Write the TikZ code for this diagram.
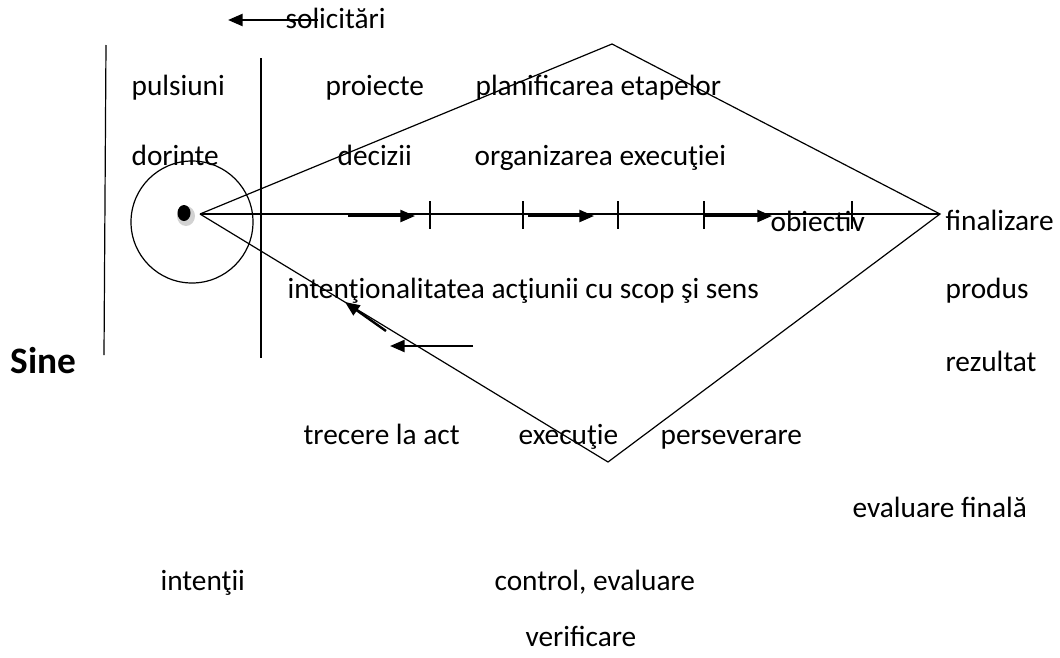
\documentclass[tikz,border=0pt]{standalone}
\usepackage{fontspec}
\setmainfont{Carlito}
\usetikzlibrary{arrows.meta}

\tikzset{
  lbl/.style={anchor=base west, inner sep=0pt, font=\fontsize{22}{24}\selectfont},
  push/.style={line width=1.8pt, -{Triangle[length=11pt, width=9pt]}},
  tick/.style={line width=0.9pt}
}

\begin{document}
\begin{tikzpicture}[x=0.75pt, y=-0.75pt, line width=0.9pt]
        \useasboundingbox (0,0) rectangle (1060,657);
        % the self
        \coordinate (O) at (200,214);
        \coordinate (T) at (612,44);
        \coordinate (R) at (940,214);
        \coordinate (B) at (608,462);
        \draw (192,222) circle(61);
        \fill[gray!35] (186,216) ellipse(9 and 10);
        \fill (184,213) ellipse(6.5 and 8);
        \draw (106,45) -- (104,355);
        \draw (261,58) -- (261,358);
        % the act
        \draw (O) -- (T) -- (R) -- (B) -- (O);
        \draw (O) -- (R);
        \draw[push] (348,216) -- (415,216);
        \draw[push] (528,216) -- (594,216);
        \draw[push] (705,216) -- (772,216);
        \foreach \x in {430,523,618,704,852}
            \draw[tick] (\x,201) -- (\x,229);
        \draw[push] (386,331) -- (345,302);
        \draw[push] (473,346) -- (390,346);
        \draw[push] (318,20) -- (228,20);
        % labels
        \node[lbl] (sol) at (285,28) {solicitări};
        \node[lbl] (pul) at (131,95) {pulsiuni};
        \node[lbl] (pro) at (325,95) {proiecte};
        \node[lbl] (pla) at (475,95) {planificarea etapelor};
        \node[lbl] (dor) at (131,165) {dorinte};
        \node[lbl] (dec) at (337,165) {decizii};
        \node[lbl] (org) at (474,165) {organizarea execuţiei};
        \node[lbl] (obi) at (770,231) {obiectiv};
        \node[lbl] (fin) at (945,230) {finalizare};
        \node[lbl] (int) at (287,298) {intenţionalitatea acţiunii cu scop şi sens};
        \node[lbl] (prd) at (945,298) {produs};
        \node[lbl, font=\fontsize{28}{30}\selectfont\bfseries] (sine) at (10,373) {Sine};
        \node[lbl] (rez) at (945,371) {rezultat};
        \node[lbl] (tre) at (303,444) {trecere la act};
        \node[lbl] (exe) at (518,444) {execuţie};
        \node[lbl] (per) at (660,444) {perseverare};
        \node[lbl] (eva) at (852,517) {evaluare finală};
        \node[lbl] (ints) at (160,590) {intenţii};
        \node[lbl] (con) at (494,590) {control, evaluare};
        \node[lbl] (ver) at (525,646) {verificare};
\end{tikzpicture}
\end{document}
